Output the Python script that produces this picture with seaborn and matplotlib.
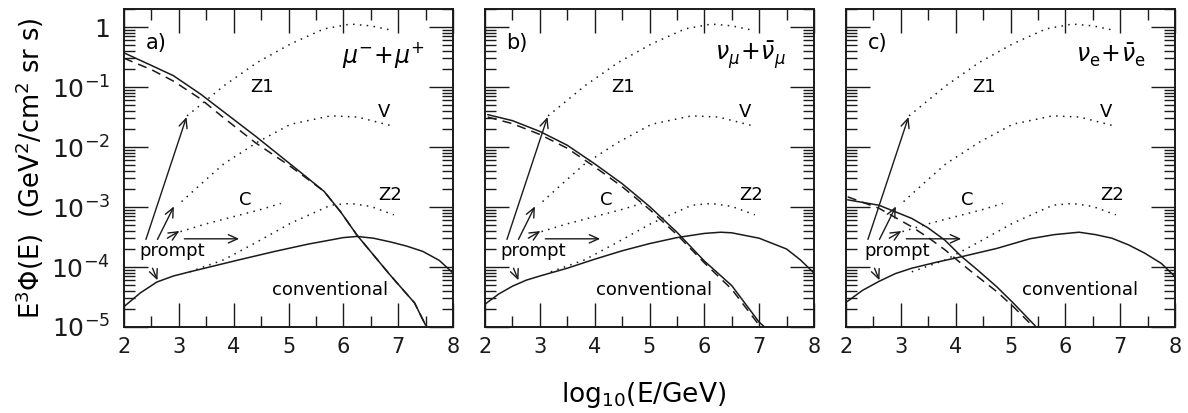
import numpy as np
import pandas as pd
import matplotlib
matplotlib.use("Agg")
import matplotlib.pyplot as plt
import seaborn as sns
from matplotlib.ticker import FixedLocator, LogLocator, FuncFormatter, NullFormatter

# ---------------- data (log10 of E^3 Phi) ----------------
# panel a: muons
x_conv_a = [2.0, 2.3, 2.6, 2.9, 3.2, 3.65, 4.1, 4.75, 5.35, 6.0, 6.25, 6.55, 6.85, 7.15, 7.45, 7.75, 8.0]
lg_conv_a = [-4.66, -4.43, -4.25, -4.15, -4.08, -3.98, -3.88, -3.74, -3.62, -3.51, -3.49, -3.52, -3.58, -3.65, -3.74, -3.89, -4.10]
x_prm_a = [2.0, 2.5, 2.9, 3.4, 3.8, 4.4, 5.0, 5.3, 5.65, 5.95, 6.25, 6.85, 7.3, 7.5]
lg_prm_a = [-0.43, -0.64, -0.81, -1.12, -1.40, -1.82, -2.26, -2.48, -2.74, -3.08, -3.47, -4.13, -4.60, -4.97]
x_dsh_a = [2.0, 2.5, 2.9, 3.4, 3.8, 4.4, 5.0, 5.3, 5.65, 5.95, 6.25, 6.85, 7.3, 7.5]
lg_dsh_a = [-0.52, -0.71, -0.90, -1.20, -1.50, -1.93, -2.30, -2.50, -2.74, -3.08, -3.47, -4.13, -4.60, -4.97]

# panel b: muon neutrinos
x_conv_b = [2.0, 2.25, 2.5, 2.75, 3.0, 3.5, 4.0, 4.5, 5.0, 5.5, 6.0, 6.3, 6.5, 7.0, 7.5, 7.75, 8.0]
lg_conv_b = [-4.62, -4.45, -4.32, -4.22, -4.15, -4.02, -3.87, -3.73, -3.61, -3.51, -3.44, -3.42, -3.43, -3.52, -3.70, -3.88, -4.10]
x_prm_b = [2.05, 2.5, 3.0, 3.5, 4.0, 4.5, 5.0, 5.5, 6.0, 6.5, 7.0, 7.1]
lg_prm_b = [-1.46, -1.56, -1.74, -1.97, -2.28, -2.61, -2.99, -3.42, -3.90, -4.31, -4.92, -5.0]
x_dsh_b = [2.05, 2.5, 3.0, 3.5, 4.0, 4.5, 5.0, 5.5, 6.0, 6.5, 7.0, 7.05]
lg_dsh_b = [-1.50, -1.61, -1.79, -2.02, -2.33, -2.66, -3.04, -3.46, -3.93, -4.37, -4.97, -5.0]

# panel c: electron neutrinos
x_conv_c = [2.0, 2.3, 2.6, 2.9, 3.2, 3.65, 4.1, 4.75, 5.35, 5.8, 6.25, 6.55, 6.85, 7.15, 7.45, 7.75, 8.0]
lg_conv_c = [-4.59, -4.39, -4.24, -4.11, -4.02, -3.92, -3.83, -3.69, -3.53, -3.46, -3.42, -3.46, -3.52, -3.63, -3.77, -3.94, -4.16]
x_prm_c = [2.03, 2.6, 3.2, 3.5, 3.8, 4.1, 4.4, 4.75, 5.05, 5.45]
lg_prm_c = [-2.88, -2.97, -3.19, -3.35, -3.55, -3.82, -4.05, -4.33, -4.60, -4.98]
x_dsh_c = [2.03, 2.6, 3.2, 3.5, 3.8, 4.1, 4.4, 4.75, 5.05, 5.4]
lg_dsh_c = [-2.83, -3.02, -3.33, -3.51, -3.71, -3.94, -4.16, -4.41, -4.66, -4.98]

# prompt models (dotted), identical in the three panels
x_z1 = [3.15, 3.5, 3.82, 4.43, 5.04, 5.65, 6.13, 6.5, 6.92]
lg_z1 = [-1.48, -1.22, -0.98, -0.59, -0.28, -0.03, 0.05, 0.02, -0.06]
x_v = [3.05, 3.4, 3.82, 4.43, 5.04, 5.77, 6.26, 6.9]
lg_v = [-2.91, -2.62, -2.28, -1.92, -1.62, -1.48, -1.50, -1.65]
x_c = [3.03, 3.5, 4.0, 4.5, 4.86]
lg_c = [-3.41, -3.28, -3.16, -3.04, -2.94]
x_z2 = [3.2, 3.82, 4.43, 5.04, 5.77, 6.13, 6.5, 6.92]
lg_z2 = [-4.08, -3.88, -3.58, -3.27, -2.97, -2.94, -2.99, -3.13]

panel_tags = ["a)", "b)", "c)"]
particle_labels = [r"$\mu^{-}\!+\!\mu^{+}$", r"$\nu_{\mu}\!+\!\bar{\nu}_{\mu}$",
                   r"$\nu_{\mathrm{e}}\!+\!\bar{\nu}_{\mathrm{e}}$"]
conv_label_x = [5.75, 5.09, 6.26]
x_ticks = [2, 3, 4, 5, 6, 7, 8]

# ---------------- style ----------------
sns.set_theme(style="ticks")
plt.rcParams["font.family"] = ["DejaVu Sans"]
plt.rcParams["mathtext.fontset"] = "dejavusans"
plt.rcParams["axes.linewidth"] = 1.4
plt.rcParams["text.color"] = "black"
plt.rcParams["axes.labelcolor"] = "black"
plt.rcParams["xtick.color"] = "black"
plt.rcParams["ytick.color"] = "black"

fig = plt.figure(figsize=(11.88, 4.13), dpi=100)
W, H = 1188.0, 413.0
lefts = [124, 485, 846]
axes = [fig.add_axes([l / W, (H - 327) / H, 329 / W, 318 / H]) for l in lefts]

panels = [
    (x_conv_a, lg_conv_a, x_prm_a, lg_prm_a, x_dsh_a, lg_dsh_a),
    (x_conv_b, lg_conv_b, x_prm_b, lg_prm_b, x_dsh_b, lg_dsh_b),
    (x_conv_c, lg_conv_c, x_prm_c, lg_prm_c, x_dsh_c, lg_dsh_c),
]

arrow_kw = dict(arrowstyle="->,head_length=0.55,head_width=0.25", color="k", lw=1.0,
                shrinkA=0, shrinkB=0)

for i, ax in enumerate(axes):
    xc, lc, xp, lp, xd, ld = panels[i]
    for xs, ls, sty, lw in [
        (xc, lc, "-", 1.1),
        (xp, lp, "-", 1.1),
        (xd, ld, (0, (6, 4)), 1.1),
        (x_z1, lg_z1, (0, (1, 3.5)), 1.1),
        (x_v, lg_v, (0, (1, 3.5)), 1.1),
        (x_c, lg_c, (0, (1, 3.5)), 1.1),
        (x_z2, lg_z2, (0, (1, 3.5)), 1.1),
    ]:
        df = pd.DataFrame({"x": xs, "y": 10.0 ** np.asarray(ls)})
        sns.lineplot(data=df, x="x", y="y", ax=ax, color="k", linestyle=sty,
                     linewidth=lw, sort=False, estimator=None)

    ax.set_yscale("log")
    ax.set_xlim(2, 8)
    ax.set_ylim(1e-5, 2.0)

    # arrows from "prompt"
    ax.annotate("", xy=(3.14, 10 ** -1.50), xytext=(2.40, 10 ** -3.54), arrowprops=arrow_kw)
    ax.annotate("", xy=(2.91, 10 ** -2.99), xytext=(2.61, 10 ** -3.54), arrowprops=arrow_kw)
    ax.annotate("", xy=(3.01, 10 ** -3.40), xytext=(2.79, 10 ** -3.52), arrowprops=arrow_kw)
    ax.annotate("", xy=(4.10, 10 ** -3.53), xytext=(3.10, 10 ** -3.53), arrowprops=arrow_kw)
    ax.annotate("", xy=(2.61, 10 ** -4.22), xytext=(2.52, 10 ** -4.02), arrowprops=arrow_kw)

    fs = 13
    ax.text(2.87 + (0.06 if i == 2 else 0), 10 ** -3.74, "prompt", ha="center", va="center", fontsize=fs)
    ax.text(conv_label_x[i], 10 ** -4.38, "conventional", ha="center", va="center", fontsize=fs)
    ax.text(4.52, 10 ** -1.0, "Z1", ha="center", va="center", fontsize=fs)
    ax.text(6.74, 10 ** -1.41, "V", ha="center", va="center", fontsize=fs)
    ax.text(4.22, 10 ** -2.88, "C", ha="center", va="center", fontsize=fs)
    ax.text(6.86, 10 ** -2.80, "Z2", ha="center", va="center", fontsize=fs)
    ax.text(2.58, 10 ** -0.26, panel_tags[i], ha="center", va="center", fontsize=15)
    ax.text(7.48, 10 ** -0.47, particle_labels[i], ha="right", va="center", fontsize=17)

    ax.xaxis.set_major_locator(FixedLocator(x_ticks))
    ax.xaxis.set_minor_locator(FixedLocator([v + 0.5 for v in x_ticks[:-1]]))
    ax.yaxis.set_major_locator(LogLocator(base=10, numticks=20))
    ax.yaxis.set_minor_locator(LogLocator(base=10, subs=np.arange(2, 10), numticks=20))
    ax.yaxis.set_minor_formatter(NullFormatter())
    ax.tick_params(which="both", direction="in", top=True, right=True, colors="k",
                   labelsize=15, width=1.0)
    ax.tick_params(which="major", length=17, pad=7)
    ax.tick_params(which="minor", length=8)
    ax.set_xlabel("")
    ax.set_ylabel("")
    if i == 0:
        ax.yaxis.set_major_formatter(FuncFormatter(
            lambda v, p: "1" if abs(np.log10(v)) < 1e-6 else r"$10^{%d}$" % round(np.log10(v))))
        ax.tick_params(axis="y", labelsize=18, pad=10)
    else:
        ax.set_yticklabels([])
    for s in ax.spines.values():
        s.set_color("k")
        s.set_linewidth(1.4)

fig.text(30 / W, 1 - 168 / H, "E$^{3}$Φ(E)  (GeV$^{2}$/cm$^{2}$ sr s)", rotation=90,
         ha="center", va="center", fontsize=18.5)
fig.text(644 / W, 1 - 395 / H, "log$_{10}$(E/GeV)", ha="center", va="center", fontsize=19)

fig.savefig("out.png", dpi=100, facecolor="white")
